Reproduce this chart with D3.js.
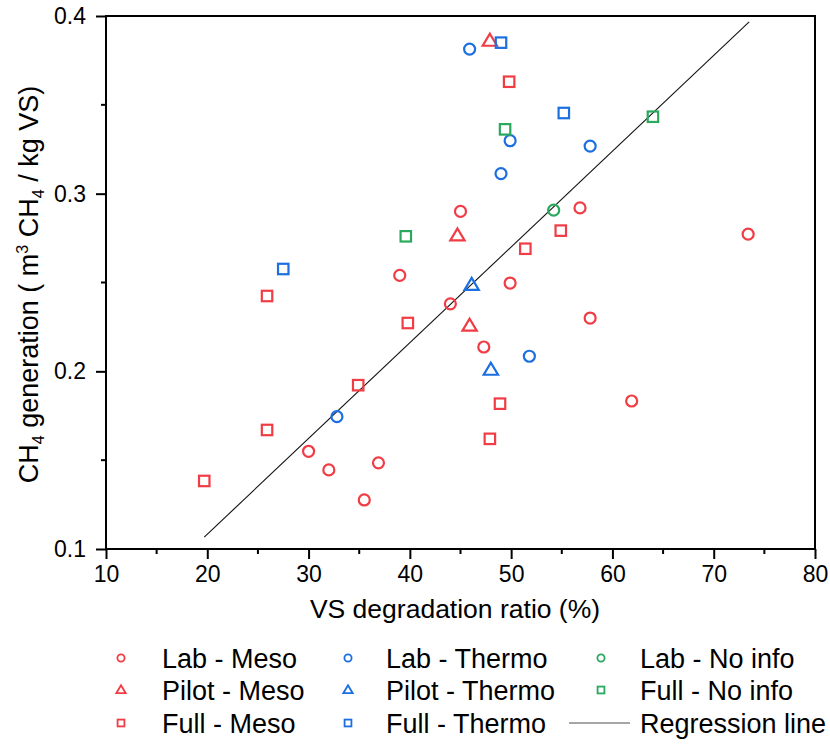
<!DOCTYPE html>
<html>
<head>
<meta charset="utf-8">
<script src="https://cdn.jsdelivr.net/npm/d3@7"></script>
<style>
  body { margin: 0; background: #fff; }
  svg { font-family: "Liberation Sans", Arial, sans-serif; }
</style>
</head>
<body>
<div id="viz"></div>
<script>
// values: [VS degradation %, m3 CH4 / kg VS]
const labMeso = [[30.0,0.155],[32.0,0.1445],[36.9,0.1485],[35.5,0.1276],[39.0,0.254],[45.0,0.290],
  [44.0,0.238],[49.9,0.2497],[47.3,0.2137],[56.8,0.292],[57.8,0.230],[61.9,0.1833],[73.4,0.2772]];
const pilotMeso = [[47.9,0.386],[44.7,0.2764],[45.9,0.2256]];
const fullMeso = [[49.8,0.363],[54.9,0.2792],[51.4,0.269],[39.8,0.2272],[48.9,0.1818],[47.9,0.162],
  [25.9,0.2424],[34.9,0.1922],[25.9,0.167],[19.7,0.1383]];
const labThermo = [[45.9,0.3814],[49.9,0.3298],[57.8,0.3268],[49.0,0.3113],[51.8,0.2085],[32.8,0.1745]];
const pilotThermo = [[46.1,0.2486],[48.0,0.2008]];
const fullThermo = [[49.0,0.385],[55.2,0.3454],[27.5,0.2576]];
const labNoInfo = [[54.2,0.2907]];
const fullNoInfo = [[49.4,0.3362],[64.0,0.3433],[39.6,0.276]];

const regSlope = 0.00539, regIntercept = 0.0005, regRange = [19.7, 73.5];

const xTicks = [10, 20, 30, 40, 50, 60, 70, 80];
const yTicks = [0.1, 0.2, 0.3, 0.4];

const RED = '#f03c44', BLUE = '#1b6fe0', GREEN = '#2aa85e';

const series = [
  { name: 'Lab - Meso', data: labMeso, color: RED, shape: 'circle' },
  { name: 'Pilot - Meso', data: pilotMeso, color: RED, shape: 'triangle' },
  { name: 'Full - Meso', data: fullMeso, color: RED, shape: 'square' },
  { name: 'Lab - Thermo', data: labThermo, color: BLUE, shape: 'circle' },
  { name: 'Pilot - Thermo', data: pilotThermo, color: BLUE, shape: 'triangle' },
  { name: 'Full - Thermo', data: fullThermo, color: BLUE, shape: 'square' },
  { name: 'Lab - No info', data: labNoInfo, color: GREEN, shape: 'circle' },
  { name: 'Full - No info', data: fullNoInfo, color: GREEN, shape: 'square' }
];

const W = 830, H = 744;
const m = { left: 106, right: 815, top: 16, bottom: 549 };

const svg = d3.select('#viz').append('svg').attr('width', W).attr('height', H);

const x = d3.scaleLinear().domain([10, 80]).range([m.left, m.right]);
const y = d3.scaleLinear().domain([0.1, 0.4]).range([m.bottom, m.top]);

function drawMarker(g, shape, size, color, sw) {
  if (shape === 'circle') {
    g.append('circle').attr('r', size).attr('fill', 'none').attr('stroke', color).attr('stroke-width', sw);
  } else if (shape === 'square') {
    const s = size * 0.95;
    g.append('rect').attr('x', -s).attr('y', -s).attr('width', 2 * s).attr('height', 2 * s)
      .attr('fill', 'none').attr('stroke', color).attr('stroke-width', sw);
  } else {
    const s = size * 1.3;
    g.append('path').attr('d', `M0,${-s}L${s * 1.0},${s * 0.68}L${-s * 1.0},${s * 0.68}Z`)
      .attr('fill', 'none').attr('stroke', color).attr('stroke-width', sw).attr('stroke-linejoin', 'miter');
  }
}

// regression line
svg.append('line')
  .attr('x1', x(regRange[0])).attr('y1', y(regSlope * regRange[0] + regIntercept))
  .attr('x2', x(regRange[1])).attr('y2', y(regSlope * regRange[1] + regIntercept))
  .attr('stroke', '#111').attr('stroke-width', 1.1);

// points
series.forEach(s => {
  s.data.forEach(d => {
    const g = svg.append('g').attr('transform', `translate(${x(d[0])},${y(d[1])})`);
    drawMarker(g, s.shape, 5.5, s.color, 2.2);
  });
});

// axes
const xAxis = d3.axisBottom(x).tickValues(xTicks).tickSize(10).tickPadding(7);
const yAxis = d3.axisLeft(y).tickValues(yTicks).tickSize(10).tickPadding(10).tickFormat(d3.format('.1f'));

const gx = svg.append('g').attr('transform', `translate(0,${m.bottom})`).call(xAxis);
const gy = svg.append('g').attr('transform', `translate(${m.left},0)`).call(yAxis);
[gx, gy].forEach(g => {
  g.select('.domain').remove();
  g.selectAll('.tick line').attr('stroke', '#000').attr('stroke-width', 2);
  g.selectAll('.tick text').attr('fill', '#000').style('font-size', '23px');
});

// minor ticks
const xMinor = d3.range(15, 80, 10);
const yMinor = [0.15, 0.25, 0.35];
svg.append('g').selectAll('line').data(xMinor).join('line')
  .attr('x1', d => x(d)).attr('x2', d => x(d)).attr('y1', m.bottom).attr('y2', m.bottom + 5)
  .attr('stroke', '#000').attr('stroke-width', 2);
svg.append('g').selectAll('line').data(yMinor).join('line')
  .attr('y1', d => y(d)).attr('y2', d => y(d)).attr('x1', m.left).attr('x2', m.left - 5)
  .attr('stroke', '#000').attr('stroke-width', 2);

// frame
svg.append('rect').attr('x', m.left).attr('y', m.top)
  .attr('width', m.right - m.left).attr('height', m.bottom - m.top)
  .attr('fill', 'none').attr('stroke', '#000').attr('stroke-width', 2);

// axis titles
svg.append('text').attr('x', 455).attr('y', 618)
  .attr('text-anchor', 'middle').style('font-size', '26.5px').text('VS degradation ratio (%)');

const yt = svg.append('text').attr('transform', `translate(38,${(m.top + m.bottom) / 2 + 2}) rotate(-90)`)
  .attr('text-anchor', 'middle').style('font-size', '27px');
yt.append('tspan').text('CH');
yt.append('tspan').text('4').style('font-size', '16px').attr('dy', 6);
yt.append('tspan').text(' generation ( m').attr('dy', -6);
yt.append('tspan').text('3').style('font-size', '16px').attr('dy', -10);
yt.append('tspan').text(' CH').attr('dy', 10);
yt.append('tspan').text('4').style('font-size', '16px').attr('dy', 6);
yt.append('tspan').text(' / kg VS)').attr('dy', -6);

// legend
const colX = [121, 348, 601];
const textX = [162, 386, 640];
const rowY = [658, 690, 723];
const legendItems = [
  { s: series[0], c: 0, r: 0 }, { s: series[1], c: 0, r: 1 }, { s: series[2], c: 0, r: 2 },
  { s: series[3], c: 1, r: 0 }, { s: series[4], c: 1, r: 1 }, { s: series[5], c: 1, r: 2 },
  { s: series[6], c: 2, r: 0 }, { s: series[7], c: 2, r: 1 }
];
legendItems.forEach(it => {
  const g = svg.append('g').attr('transform', `translate(${colX[it.c]},${rowY[it.r]})`);
  drawMarker(g, it.s.shape, 3.6, it.s.color, 1.8);
  svg.append('text').attr('x', textX[it.c]).attr('y', rowY[it.r] + 9.5)
    .style('font-size', '27px').text(it.s.name);
});
svg.append('line').attr('x1', 569).attr('x2', 630).attr('y1', rowY[2]).attr('y2', rowY[2])
  .attr('stroke', '#888').attr('stroke-width', 1.5);
svg.append('text').attr('x', textX[2]).attr('y', rowY[2] + 9.5)
  .style('font-size', '27px').text('Regression line');
</script>
</body>
</html>
